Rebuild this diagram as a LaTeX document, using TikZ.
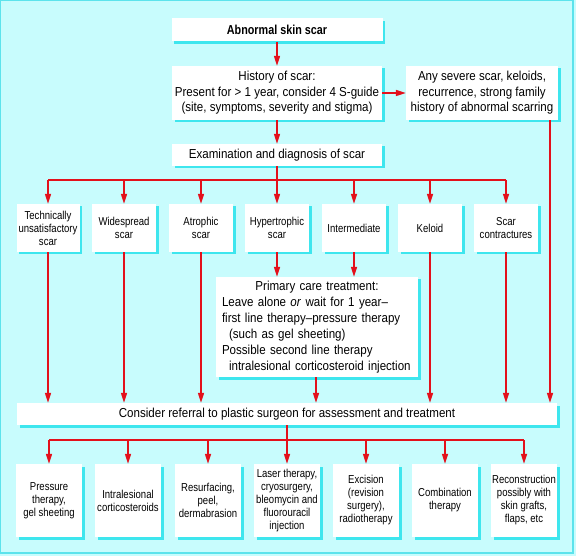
\documentclass[tikz,border=0pt]{standalone}
\usepackage{fontspec}
\setmainfont[FakeStretch=0.89]{Liberation Sans}
\newfontfamily\narrowfont[FakeStretch=0.83]{Liberation Sans}
\usepackage{tikz}
\usetikzlibrary{arrows.meta,shadows}
\definecolor{scarbg}{HTML}{C8FCFD}
\definecolor{scarshade}{HTML}{3EE6EE}
\definecolor{scarrule}{HTML}{5CE3EC}
\definecolor{scarred}{HTML}{E3101B}

\tikzset{
  scarbox/.style={fill=white, inner sep=2pt, align=center,
    font=\fontsize{13}{15.5}\selectfont,
    drop shadow={shadow xshift=2.5pt, shadow yshift=-2.5pt, fill=scarshade, opacity=1}},
  smallbox/.style={scarbox, inner xsep=0.5pt, font=\narrowfont\fontsize{11.5}{13}\selectfont},
  conn/.style={draw=scarred, line width=1.5pt},
  arr/.style={conn, -{Triangle[length=10pt,width=6pt]}}
}

\begin{document}
\begin{tikzpicture}[x=1pt, y=-1pt]
% background and frame
\fill[scarbg] (0,0) rectangle (576,556);
\draw[scarrule, line width=1.4pt] (0.7,0.7) rectangle (573,553);
\useasboundingbox (0,0) rectangle (576,556);

% top part
\node[scarbox, minimum width=211pt, minimum height=23pt, font=\narrowfont\fontsize{13}{15.5}\selectfont] (abn) at (277,30) {\textbf{Abnormal skin scar}};
\node[scarbox, minimum width=210pt, minimum height=54pt] (hist) at (277,93) {History of scar:\\Present for > 1 year, consider 4 S-guide\\(site, symptoms, severity and stigma)};
\node[scarbox, minimum width=152pt, minimum height=54pt] (severe) at (482,93) {Any severe scar, keloids,\\recurrence, strong family\\history of abnormal scarring};
\node[scarbox, minimum width=210pt, minimum height=22pt] (exam) at (277,155) {Examination and diagnosis of scar};

% scar types
\node[smallbox, minimum width=63pt, minimum height=48pt] (c1) at (48,228) {Technically\\unsatisfactory\\scar};
\node[smallbox, minimum width=64pt, minimum height=48pt] (c2) at (124,228) {Widespread\\scar};
\node[smallbox, minimum width=64pt, minimum height=48pt] (c3) at (201,228) {Atrophic\\scar};
\node[smallbox, minimum width=64pt, minimum height=48pt] (c4) at (277,228) {Hypertrophic\\scar};
\node[smallbox, minimum width=64pt, minimum height=48pt] (c5) at (354,228) {Intermediate};
\node[smallbox, minimum width=64pt, minimum height=48pt] (c6) at (430,228) {Keloid};
\node[smallbox, minimum width=64pt, minimum height=48pt] (c7) at (506,228) {Scar\\contractures};

\node[scarbox, minimum width=202pt, minimum height=100pt, align=left, text width=190pt, inner xsep=5.5pt, inner ysep=1pt, font=\fontsize{13}{16}\selectfont] (prim) at (317,327) {%
\makebox[\linewidth][c]{Primary care treatment:}\\
Leave alone \textit{or} wait for 1 year--\\
first line therapy--pressure therapy\\
\hspace*{7pt}(such as gel sheeting)\\
Possible second line therapy\\
\hspace*{7pt}intralesional corticosteroid injection};

\node[scarbox, minimum width=540pt, minimum height=22pt] (refer) at (287,414) {Consider referral to plastic surgeon for assessment and treatment};

% treatments
\node[smallbox, minimum width=66pt, minimum height=73pt] (t1) at (49,500.5) {Pressure\\therapy,\\gel sheeting};
\node[smallbox, minimum width=66pt, minimum height=73pt] (t2) at (128,500.5) {Intralesional\\corticosteroids};
\node[smallbox, minimum width=66pt, minimum height=73pt] (t3) at (208,500.5) {Resurfacing,\\peel,\\dermabrasion};
\node[smallbox, minimum width=66pt, minimum height=73pt] (t4) at (287,500.5) {Laser therapy,\\cryosurgery,\\bleomycin and\\fluorouracil\\injection};
\node[smallbox, minimum width=66pt, minimum height=73pt] (t5) at (366,500.5) {Excision\\(revision\\surgery),\\radiotherapy};
\node[smallbox, minimum width=66pt, minimum height=73pt] (t6) at (445,500.5) {Combination\\therapy};
\node[smallbox, minimum width=66pt, minimum height=73pt] (t7) at (524,500.5) {Reconstruction\\possibly with\\skin grafts,\\flaps, etc};

% connectors
\coordinate (busA) at (277,180);
\coordinate (busB) at (287,440);
\draw[arr] (abn) -- (hist);
\draw[arr] (hist) -- (severe);
\draw[arr] (hist) -- (exam);
\draw[conn] (exam) -- (busA);
\draw[conn] (c1 |- busA) -- (c7 |- busA);
\foreach \n in {1,...,7}
  \draw[arr] (c\n |- busA) -- (c\n);
\draw[arr] (c4) -- (c4 |- prim.north);
\draw[arr] (c5) -- (c5 |- prim.north);
\foreach \n in {1,2,3,6,7}
  \draw[arr] (c\n) -- (c\n |- refer.north);
\draw[arr] ([xshift=68pt]severe.south) -- ([xshift=68pt]severe.south |- refer.north);
\draw[arr] ([xshift=-1pt]prim.south) -- ([xshift=-1pt]prim.south |- refer.north);
\draw[conn] (refer) -- (busB);
\draw[conn] (t1 |- busB) -- (t7 |- busB);
\foreach \n in {1,...,7}
  \draw[arr] (t\n |- busB) -- (t\n);
\end{tikzpicture}
\end{document}
